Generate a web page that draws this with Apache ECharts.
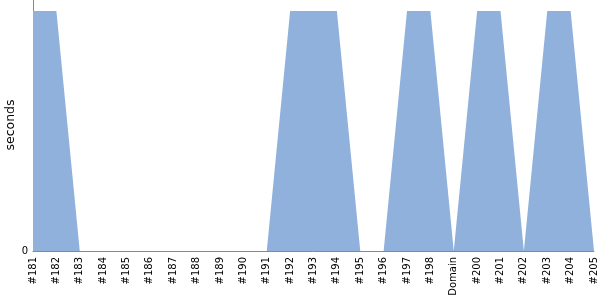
<!DOCTYPE html>
<html><head><meta charset="utf-8">
<script src="https://cdn.jsdelivr.net/npm/echarts@6/dist/echarts.min.js"></script>
<style>html,body{margin:0;padding:0;background:#fff}#c{width:600px;height:300px}</style>
</head><body><div id="c"></div>
<script>
const categories = ['#181','#182','#183','#184','#185','#186','#187','#188','#189','#190','#191','#192','#193','#194','#195','#196','#197','#198','Domain','#200','#201','#202','#203','#204','#205'];
const seconds = [1,1,0,0,0,0,0,0,0,0,0,1,1,1,0,0,1,1,0,1,1,0,1,1,0];
const yTicks = [0];
const yName = 'seconds';
const chart = echarts.init(document.getElementById('c'), null, {renderer:'canvas'});
chart.setOption({
  animation:false,
  grid:{left:33,right:6,top:0,bottom:49,containLabel:false,outerBoundsMode:'none'},
  graphic:[{type:'text',x:11,y:125,rotation:Math.PI/2,
    style:{text:yName,fill:'#000',font:'12.5px "DejaVu Sans"',align:'center',verticalAlign:'middle'}}],
  xAxis:{type:'category',data:categories,boundaryGap:false,
    axisLine:{lineStyle:{color:'#888',width:1}},axisTick:{show:false},
    axisLabel:{rotate:90,interval:0,fontFamily:'DejaVu Sans',fontSize:10,color:'#000',margin:6}},
  yAxis:{type:'value',min:0,max:1.046,
    axisLine:{show:true,lineStyle:{color:'#888',width:1}},axisTick:{show:false},splitLine:{show:false},
    axisLabel:{fontFamily:'DejaVu Sans',fontSize:10,color:'#000',margin:5,
      formatter:v=>yTicks.includes(v)?String(v):''},interval:1.046},
  series:[{type:'line',data:seconds,symbol:'none',lineStyle:{width:0},
    areaStyle:{color:'#8fb1db',opacity:1}}]
});
</script></body></html>
